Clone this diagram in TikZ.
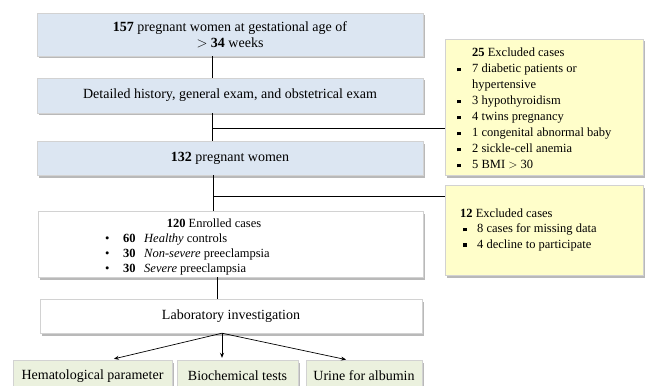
\documentclass[tikz,border=0pt]{standalone}
\usepackage{fontspec}
\setmainfont{Liberation Serif}
\usetikzlibrary{shadows,arrows.meta,calc}
\definecolor{boxblue}{HTML}{DCE6F2}
\definecolor{boxyellow}{HTML}{FFFECA}
\definecolor{boxgreen}{HTML}{EBF1DE}
\newcommand{\sqbul}{\raisebox{1.5pt}{\rule{3.5pt}{3.5pt}}}
\begin{document}
\begin{tikzpicture}[x=1pt,y=-1pt,
  every node/.style={font=\fontsize{14}{16}\selectfont},
  small/.style={font=\fontsize{12.5}{16}\selectfont},
  shad/.style={drop shadow={shadow xshift=2pt,shadow yshift=-2.5pt,fill=black!50,opacity=0.55}},
  bluebox/.style={shad,fill=boxblue,draw=gray!35,line width=0.4pt,minimum width=386pt,inner sep=0pt,align=center},
  whitebox/.style={shad,fill=white,draw=gray!35,line width=0.4pt,inner sep=0pt,align=center},
  yellowbox/.style={shad,fill=boxyellow,draw=gray!35,line width=0.4pt,minimum width=198pt,inner sep=0pt},
  greenbox/.style={shad,fill=boxgreen,draw=gray!35,line width=0.4pt,minimum height=32pt,inner sep=0pt},
  txt/.style={small,inner sep=0pt,anchor=north west,align=left},
  conn/.style={line width=0.8pt,black},
  arr/.style={line width=0.7pt,black,-{Stealth[length=5pt,width=4pt]}}]
\useasboundingbox (0,0) rectangle (647,385);
% main column
\node[bluebox,minimum height=43pt] (b1) at (230,34.5) {\textbf{157} pregnant women at gestational age of\\ $>$ \textbf{34} weeks};
\node[bluebox,minimum height=35pt] (b2) at (230,95.5) {Detailed history, general exam, and obstetrical exam};
\node[bluebox,minimum height=34pt] (b3) at (230,158) {\textbf{132} pregnant women};
\node[whitebox,minimum width=385pt,minimum height=66pt] (b4) at (230.5,244) {};
\node[small,inner sep=0pt] (b4h) at (214,223) {\textbf{120} Enrolled cases};
\node[txt] (b4l) at (105,231) {%
  \begin{tabular}{@{}p{18pt}@{}p{21pt}@{}l@{}}
  \textbullet & \textbf{60} & \textit{Healthy} controls\\[-1pt]
  \textbullet & \textbf{30} & \textit{Non-severe} preeclampsia\\[-1pt]
  \textbullet & \textbf{30} & \textit{Severe} preeclampsia
  \end{tabular}};
\node[whitebox,minimum width=382pt,minimum height=34pt] (lab) at (231,316) {Laboratory investigation};
% bottom row
\node[greenbox,minimum width=159pt] (g1) at (92.5,376) {Hematological parameter};
\node[greenbox,minimum width=121pt] (g2) at (237.5,376) {Biochemical tests};
\node[greenbox,minimum width=116pt] (g3) at (364,376) {Urine for albumin};
% excluded boxes
\node[yellowbox,minimum height=136pt] (y1) at (544,107) {};
\node[txt] (y1t) at (457,45.5) {%
  \begin{tabular}{@{}p{15pt}@{}l@{}}
   & \textbf{25} Excluded cases\\
  \sqbul & 7 diabetic patients or\\
   & hypertensive\\
  \sqbul & 3 hypothyroidism\\
  \sqbul & 4 twins pregnancy\\
  \sqbul & 1 congenital abnormal baby\\
  \sqbul & 2 sickle-cell anemia\\
  \sqbul & 5 BMI $>$ 30
  \end{tabular}};
\node[yellowbox,minimum height=90pt] (y2) at (544,230) {};
\node[txt] (y2t) at (460,206) {%
  \begin{tabular}{@{}p{17pt}@{}l@{}}
  \multicolumn{2}{@{}l}{\textbf{12} Excluded cases}\\[-0.5pt]
  \hspace{3pt}\sqbul & 8 cases for missing data\\[-0.5pt]
  \hspace{3pt}\sqbul & 4 decline to participate
  \end{tabular}};
% connectors
\coordinate (j1) at (212,128);
\coordinate (j2) at (213,196);
\coordinate (j3) at (217,0);
\coordinate (f) at (222,333);
\coordinate (t1) at (110,0);
\coordinate (t3) at (347,0);
\draw[conn] (b1.south -| j1) -- (b2.north -| j1);
\draw[conn] (b2.south -| j1) -- (b3.north -| j1);
\draw[conn] (j1) -- (j1 -| y1.west);
\draw[conn] (b3.south -| j2) -- (b4.north -| j2);
\draw[conn] (j2) -- (j2 -| y2.west);
\draw[conn] (b4.south -| j3) -- (lab.north -| j3);
\draw[arr,shorten >=4pt] (lab.south -| f) -- (t1 |- g1.north);
\draw[arr,shorten >=2pt] (lab.south -| f) -- (g2.north -| f);
\draw[arr,shorten >=1pt] (lab.south -| f) -- (t3 |- g3.north);
\end{tikzpicture}
\end{document}
